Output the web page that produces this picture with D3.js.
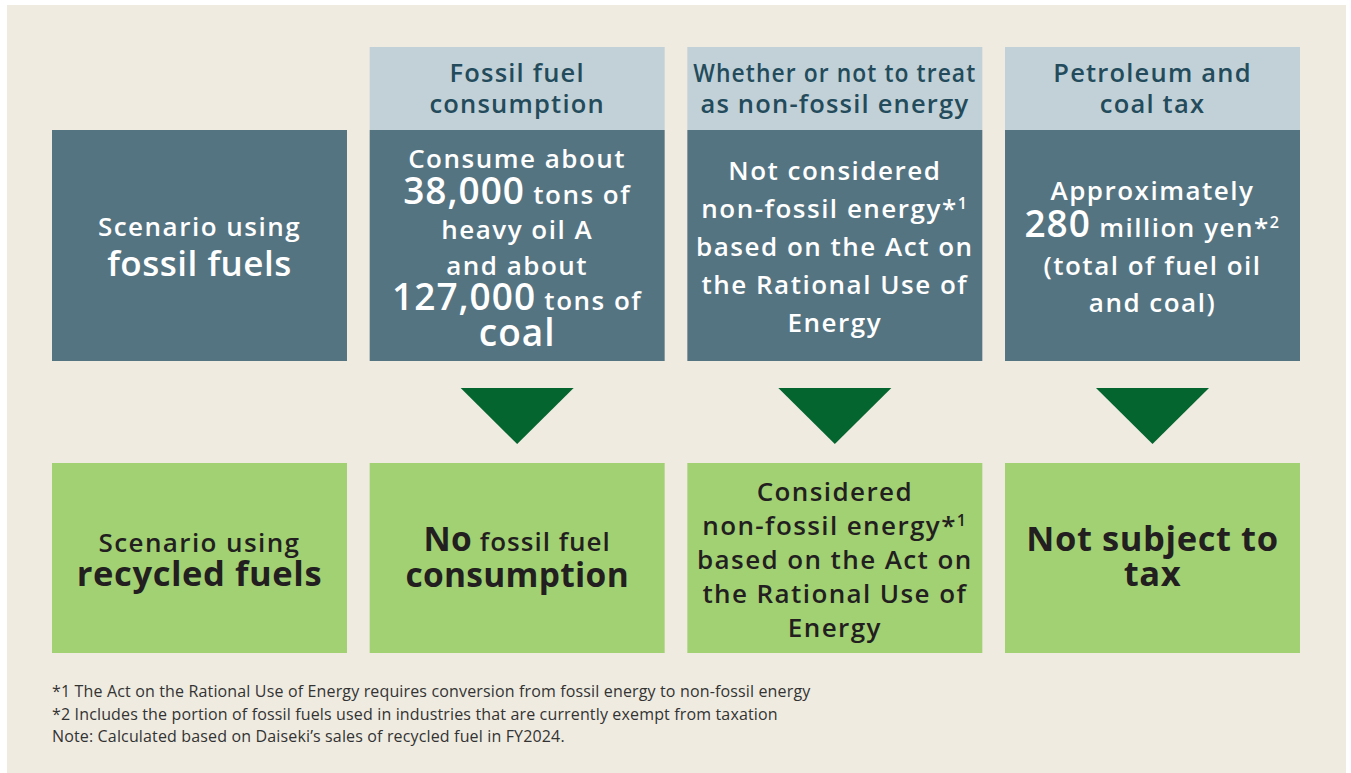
<!DOCTYPE html>
<html>
<head>
<meta charset="utf-8">
<script src="https://cdn.jsdelivr.net/npm/d3@7"></script>
<style>
  html, body { margin: 0; padding: 0; background: #ffffff; }
  svg { display: block; }
  text { font-family: "Open Sans", "Noto Sans", sans-serif; }
</style>
</head>
<body>
<div id="chart"></div>
<script>
// {..} = large figure, ^n = superscript note mark
var columns = ["scenario", "consumption", "nonFossil", "tax"];

var headers = [
  null,
  ["Fossil fuel", "consumption"],
  ["Whether or not to treat", "as non-fossil energy"],
  ["Petroleum and", "coal tax"]
];

var fossilTexts = [
  ["Scenario using", "{fossil fuels}"],
  ["Consume about", "{38,000} tons of", "heavy oil A", "and about", "{127,000} tons of", "{coal}"],
  ["Not considered", "non-fossil energy*^1", "based on the Act on", "the Rational Use of", "Energy"],
  ["Approximately", "{280} million yen*^2", "(total of fuel oil", "and coal)"]
];

var recycledTexts = [
  ["Scenario using", "{recycled fuels}"],
  ["{No} fossil fuel", "{consumption}"],
  ["Considered", "non-fossil energy*^1", "based on the Act on", "the Rational Use of", "Energy"],
  ["{Not subject to}", "{tax}"]
];

var footnotes = [
  "*1 The Act on the Rational Use of Energy requires conversion from fossil energy to non-fossil energy",
  "*2 Includes the portion of fossil fuels used in industries that are currently exempt from taxation",
  "Note: Calculated based on Daiseki\u2019s sales of recycled fuel in FY2024."
];

function init() {
  var w = 1351, h = 773;

  var svg = d3.select("#chart")
    .append("svg")
    .attr("width", w)
    .attr("height", h);

  svg.append("rect")
    .attr("x", 7).attr("y", 5)
    .attr("width", 1339).attr("height", 768)
    .style("fill", "#efebe1");

  var xScale = d3.scaleBand()
    .domain(columns)
    .range([52, 1300])
    .paddingInner(0.0714);

  // rows of the diagram: header, fossil box, arrow, recycled box
  var rows = {
    header: [47, 130],
    fossil: [130, 361],
    arrow: [388, 444],
    recycled: [463, 653]
  };

  var pitchTop = [40, 35.5, 38, 37.5];
  var pitchBottom = [34, 36, 34, 35];

  // header boxes
  svg.selectAll(".hdr")
    .data(columns.filter(function (c, i) { return headers[i]; }))
    .enter().append("rect")
    .attr("class", "hdr")
    .attr("x", function (d) { return xScale(d); })
    .attr("y", rows.header[0])
    .attr("width", xScale.bandwidth())
    .attr("height", rows.header[1] - rows.header[0])
    .style("fill", "#c1d1d7");

  // fossil boxes
  svg.selectAll(".fossil")
    .data(columns)
    .enter().append("rect")
    .attr("class", "fossil")
    .attr("x", function (d) { return xScale(d); })
    .attr("y", rows.fossil[0])
    .attr("width", xScale.bandwidth())
    .attr("height", rows.fossil[1] - rows.fossil[0])
    .style("fill", "#557482");

  // arrows
  svg.selectAll(".arrow")
    .data(columns.slice(1))
    .enter().append("path")
    .attr("class", "arrow")
    .attr("d", function (d) {
      var cx = xScale(d) + xScale.bandwidth() / 2;
      var hw = 56.5;
      return "M" + (cx - hw) + "," + rows.arrow[0] +
        "L" + (cx + hw) + "," + rows.arrow[0] +
        "L" + cx + "," + rows.arrow[1] + "Z";
    })
    .style("fill", "#04652f");

  // recycled boxes
  svg.selectAll(".recycled")
    .data(columns)
    .enter().append("rect")
    .attr("class", "recycled")
    .attr("x", function (d) { return xScale(d); })
    .attr("y", rows.recycled[0])
    .attr("width", xScale.bandwidth())
    .attr("height", rows.recycled[1] - rows.recycled[0])
    .style("fill", "#a2d173");

  function writeLines(lines, col, row, pitch, opt) {
    var cx = xScale(col) + xScale.bandwidth() / 2;
    var cy = (row[0] + row[1]) / 2 + (opt.shift || 0);
    var n = lines.length;
    var maxW = xScale.bandwidth() - 12;
    lines.forEach(function (line, i) {
      var y = cy + (i - (n - 1) / 2) * pitch;
      var t = svg.append("text")
        .attr("x", cx)
        .attr("y", y)
        .attr("dy", "0.36em")
        .attr("text-anchor", "middle")
        .style("fill", opt.color)
        .style("font-size", opt.size + "px")
        .style("font-weight", opt.weight)
        .style("letter-spacing", opt.ls + "px");
      var parts = line.split(/(\{[^}]*\}|\^\d)/).filter(function (s) { return s.length; });
      parts.forEach(function (p) {
        if (p[0] === "{") {
          t.append("tspan").text(p.slice(1, -1))
            .style("font-size", opt.big + "px")
            .style("font-weight", opt.bigWeight)
            .style("letter-spacing", opt.bigLs + "px");
        } else if (p[0] === "^") {
          t.append("tspan").text(p.slice(1))
            .attr("dy", "-0.55em")
            .style("font-size", (opt.size * 0.62) + "px");
        } else {
          t.append("tspan").text(p);
        }
      });
      // squeeze a line that would run past the box
      if (t.node().getComputedTextLength() > maxW) {
        t.attr("textLength", maxW).attr("lengthAdjust", "spacingAndGlyphs");
      }
    });
  }

  columns.forEach(function (c, i) {
    if (headers[i]) {
      writeLines(headers[i], c, rows.header, 31,
        { color: "#234b5b", size: 25.5, weight: 600, ls: 1.2 });
    }
    writeLines(fossilTexts[i], c, rows.fossil, pitchTop[i],
      { color: "#ffffff", size: 26, weight: 600, ls: 1.5, shift: i === 1 ? 2 : 1,
        big: i === 0 ? 35 : 37, bigWeight: 600, bigLs: i === 0 ? 0.5 : 1 });
    writeLines(recycledTexts[i], c, rows.recycled, pitchBottom[i],
      { color: "#231f20", size: 26, weight: 600, ls: i === 1 ? 1 : 1.4, shift: 1.5,
        big: i === 1 ? 33.5 : 34.5, bigWeight: 700, bigLs: i === 1 ? 0.3 : 0.6 });
  });

  svg.selectAll(".note")
    .data(footnotes)
    .enter().append("text")
    .attr("class", "note")
    .attr("x", 52)
    .attr("y", function (d, i) { return 697 + i * 22.5; })
    .text(function (d) { return d; })
    .style("fill", "#333333")
    .style("font-size", "16px")
    .style("letter-spacing", "0.15px");
}

init();
</script>
</body>
</html>
